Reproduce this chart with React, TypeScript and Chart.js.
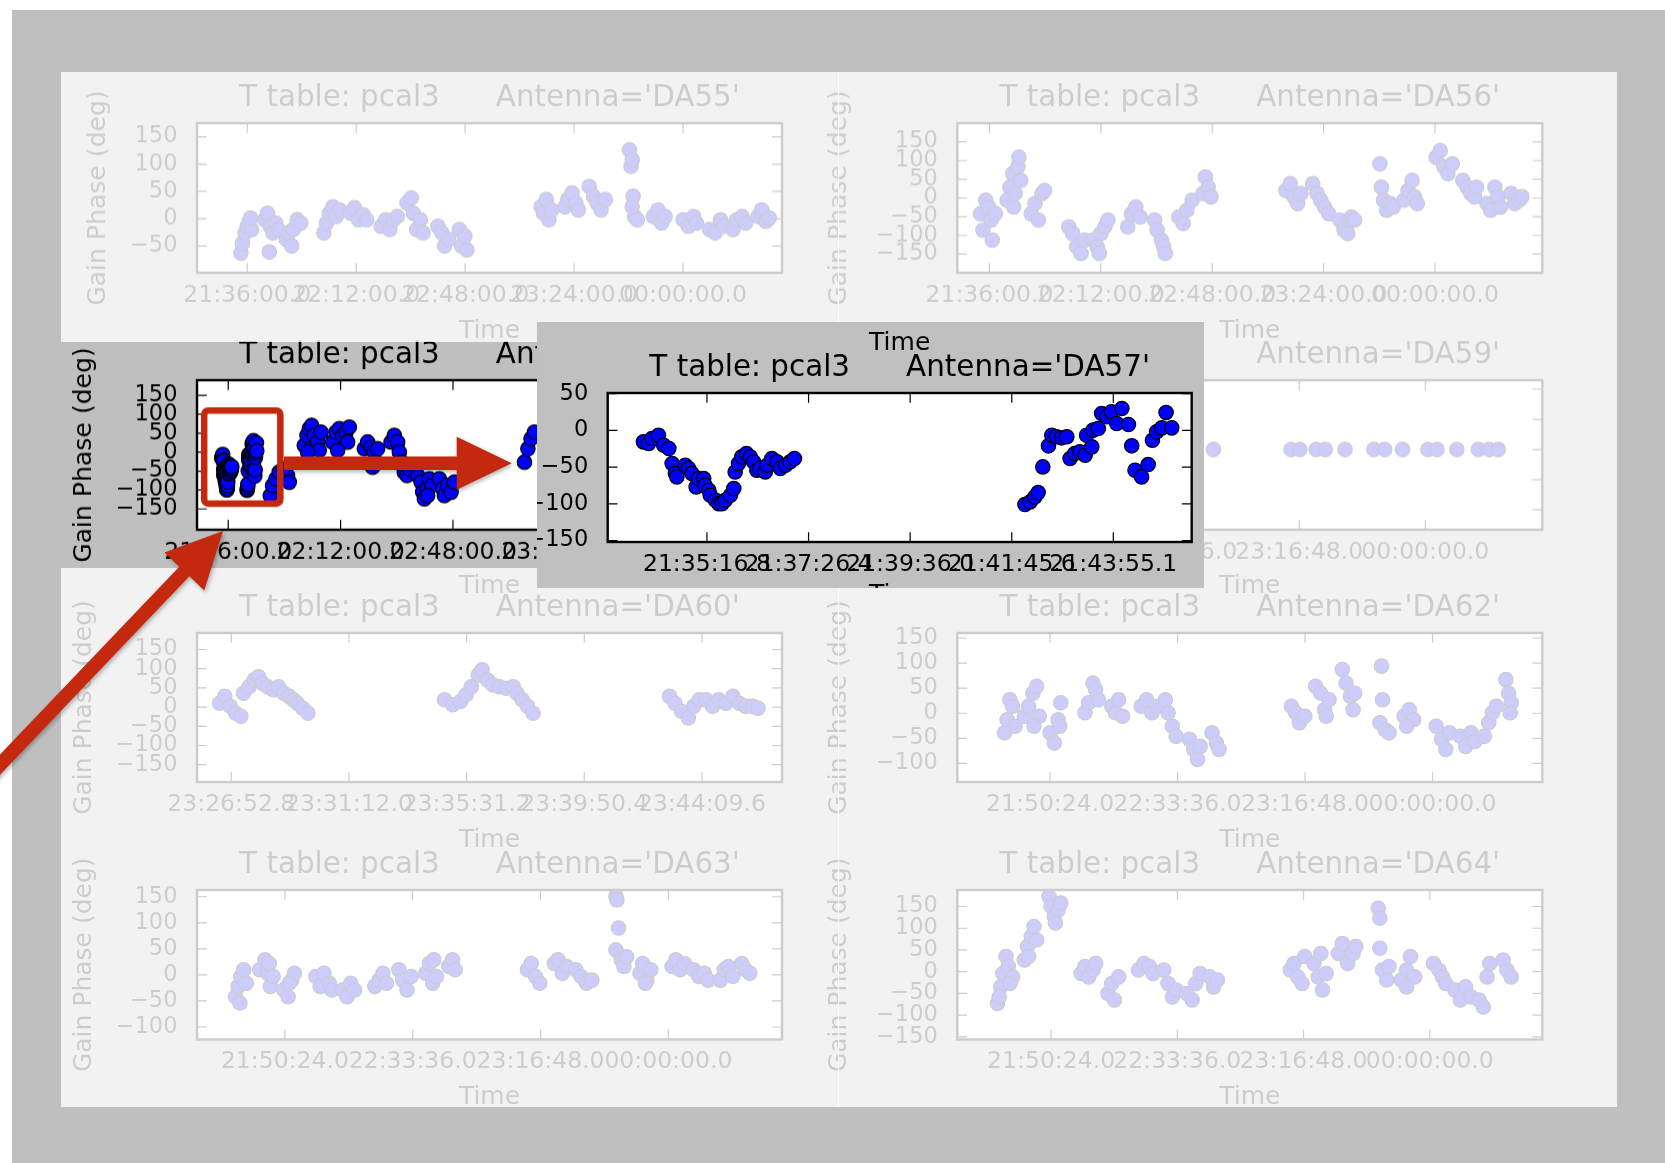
import { useEffect, useRef } from 'react';
import { Chart, registerables } from 'chart.js';

Chart.register(...registerables);

const FONT = "'DejaVu Sans', 'Liberation Sans', sans-serif";
const FIGURE_GREY = '#bfbfbf';
const MARKER_BLUE = '#0000ff';
const CALLOUT_RED = '#c4280f';

// ---- time tick labels (clock time; minutes after 21:00 are parsed from them) ----
const TIME_TICKS_36MIN = ['21:36:00.0', '22:12:00.0', '22:48:00.0', '23:24:00.0', '00:00:00.0'];
const TIME_TICKS_43MIN = ['21:50:24.0', '22:33:36.0', '23:16:48.0', '00:00:00.0'];
const TIME_TICKS_DA60 = ['23:26:52.8', '23:31:12.0', '23:35:31.2', '23:39:50.4', '23:44:09.6'];
const TIME_TICKS_ZOOM = ['21:35:16.8', '21:37:26.4', '21:39:36.0', '21:41:45.6', '21:43:55.1'];

// ---- phase tick values (deg) ----
const PHASE_TICKS_DA55 = [-50, 0, 50, 100, 150];
const PHASE_TICKS_WIDE = [-150, -100, -50, 0, 50, 100, 150];
const PHASE_TICKS_MID = [-100, -50, 0, 50, 100, 150];
const PHASE_TICKS_REF = [-100, -50, 0, 50, 100];
const PHASE_TICKS_ZOOM = [-150, -100, -50, 0, 50];

// ---- solutions: time in minutes after 21:00, gain phase in degrees ----
const DA55_MIN = [33.9, 34.4, 35.3, 36.0, 36.7, 37.4, 37.1, 41.8, 42.7, 43.6, 44.5, 43.3, 45.4, 46.3, 48.9, 49.8, 51.2, 52.5, 53.7, 50.7, 61.3, 62.2, 63.1, 64.3, 65.4, 66.6, 70.2, 71.4, 72.8, 74.3, 75.5, 80.3, 81.7, 83.1, 84.3, 85.6, 88.8, 90.2, 90.9, 92.0, 93.2, 94.1, 99.0, 100.3, 101.2, 102.6, 106.1, 106.8, 107.9, 108.6, 133.1, 133.9, 134.8, 135.7, 136.6, 141.0, 141.9, 143.3, 144.6, 145.4, 149.0, 150.4, 151.6, 152.9, 154.3, 162.3, 162.8, 163.2, 163.5, 164.0, 164.9, 163.2, 170.2, 171.7, 172.9, 174.1, 180.0, 181.8, 183.5, 184.4, 188.8, 190.6, 192.4, 193.6, 196.5, 197.7, 199.5, 200.7, 204.8, 206.0, 207.4, 208.5];
const DA55_DEG = [-63, -45, -26, -14, -5, -20, 1, -2, 10, -14, -26, -61, -8, -20, -38, -26, -20, -2, -8, -50, -26, -8, 10, 22, 4, 16, 10, 20, -2, 7, -2, -14, -2, -20, -2, 4, 29, 38, 10, -20, -2, -26, -14, -26, -50, -38, -20, -50, -32, -57, 22, 10, 35, -2, 16, 22, 35, 47, 29, 16, 59, 41, 29, 16, 35, 126, 96, 108, 41, 4, -2, 22, 4, 16, -8, 4, -2, -14, 4, -8, -20, -26, -2, -14, -20, -2, 4, -8, 4, 16, -5, 1];

const DA56_MIN = [33.1, 33.9, 34.8, 35.7, 36.5, 36.9, 37.9, 41.7, 42.6, 43.5, 43.8, 44.3, 45.2, 45.5, 46.1, 49.5, 50.7, 51.8, 53.0, 53.8, 61.6, 62.9, 64.2, 65.6, 66.8, 69.4, 70.8, 71.5, 72.0, 73.3, 74.3, 80.7, 81.9, 83.3, 84.7, 89.4, 90.2, 91.6, 92.3, 92.8, 97.2, 98.6, 99.8, 101.5, 105.0, 105.8, 106.7, 107.6, 131.8, 133.2, 134.4, 135.6, 136.7, 140.5, 141.9, 143.1, 144.3, 145.7, 149.2, 150.6, 151.8, 153.0, 154.0, 162.2, 162.7, 163.4, 164.4, 165.6, 166.5, 170.0, 171.3, 172.6, 173.4, 174.3, 180.4, 181.7, 182.9, 184.2, 185.6, 189.0, 190.4, 191.6, 192.8, 193.4, 196.8, 198.0, 199.4, 200.3, 201.2, 204.6, 205.8, 207.2, 208.1];
const DA56_DEG = [-42, -86, -6, -24, -59, -113, -42, -6, 29, 65, -24, 12, 83, 109, 47, -42, -15, -59, 12, 20, -77, -95, -130, -148, -113, -113, -130, -148, -95, -77, -59, -77, -42, -24, -51, -59, -86, -113, -130, -148, -51, -68, -33, -6, 12, 56, 29, 3, 20, 38, 3, -15, 12, 38, 12, -6, -24, -42, -59, -86, -95, -51, -59, 91, 29, -6, -33, -15, -24, -6, 20, 47, 3, -15, 109, 127, 83, 65, 91, 47, 29, 12, 3, 29, -15, -33, 29, 3, -24, 12, -15, -6, 3];

const DA57_MIN = [
  33.93, 34.04, 34.11, 34.25, 34.36, 34.47, 34.54, 34.61, 34.64, 34.82, 34.89, 34.96, 35.05, 35.10, 35.21, 35.24, 35.32, 35.35, 35.46, 35.53, 35.60, 35.67, 35.78, 35.85, 35.88, 35.95, 36.02, 36.12, 36.20, 36.27, 36.34, 36.41, 36.52, 36.56, 36.66, 36.77, 36.84, 36.95, 37.05, 37.14,
  42.04, 42.15, 42.25, 42.32, 42.42, 42.54, 42.61, 42.71, 42.82, 42.93, 43.00, 43.10, 43.21, 43.32, 43.35, 43.46, 43.49, 43.60, 43.67, 43.78, 43.88, 43.99, 44.10, 44.24, 44.31, 44.38, 44.52, 44.66, 44.75, 44.84, 44.95, 45.04, 45.16,
  49.47, 50.21, 51.29, 52.35, 53.74, 55.02, 55.56, 60.37, 61.22, 61.97, 62.72, 63.57, 64.64, 65.72, 65.17, 61.43, 69.44, 70.52, 71.59, 72.65, 73.73, 74.79, 74.25, 71.05, 79.60, 80.66, 81.75, 82.81, 83.35, 82.26, 83.86, 88.16, 89.22, 90.28, 90.82, 91.56, 92.43, 93.28, 94.03, 96.70, 97.78, 98.30, 98.84, 99.70, 100.44, 101.19, 99.90, 103.65, 104.71, 105.25, 106.31, 107.40, 108.46, 130.9, 132.0, 133.0, 134.1,
];
const DA57_DEG = [
  -15.6, -17.8, -11.0, -6.5, -20.1, -24.6, -45.1, -58.8, -63.3, -47.4, -51.9, -58.8, -76.9, -65.6, -65.6, -74.7, -81.5, -88.3, -95.1, -99.7, -99.7, -95.1, -88.3, -79.2, -56.5, -45.1, -36.0, -31.5, -36.0, -42.8, -54.2, -51.9, -56.5, -47.4, -38.3, -42.8, -51.9, -47.4, -42.8, -38.3,
  -101.0, -97.4, -90.6, -84.7, -49.7, -21.0, -6.5, -8.7, -10.1, -8.7, -38.3, -31.5, -29.2, -33.7, -6.5, -22.4, 0.4, 2.6, 23.1, 18.6, 25.4, 9.5, 29.9, 8.1, -21.0, -54.2, -63.3, -46.5, -13.3, -1.9, 3.5, 24.5, 3.5,
  -114.6, -88.1, -70.5, -52.9, -44.0, -61.7, -79.4, 17.6, 44.1, 61.8, 70.6, 44.1, 26.5, 52.9, 4.4, 0, 26.5, 52.9, 61.8, 44.1, 52.9, 66.2, 26.5, 4.4, 8.9, 26.5, 13.2, 0, -26.5, -39.7, 8.9, 26.5, 44.1, 26.5, 0, -26.5, -52.9, -61.7, -44.0, -61.7, -79.4, -105.9, -123.5, -97.1, -70.5, -88.1, -114.6, -70.5, -97.1, -114.6, -88.1, -105.9, -79.4, -26.5, 8.9, 35.3, 52.9,
];

const DA59_MIN = [107.4, 134.0, 137.0, 142.6, 145.7, 152.5, 162.4, 166.1, 172.2, 180.9, 184.0, 190.8, 198.2, 201.9, 205.0];
const DA59_DEG = [0, 0, 0, 0, 0, 0, 0, 0, 0, 0, 0, 0, 0, 0, 0];

const DA60_MIN = [146.45, 146.64, 146.84, 147.04, 147.23, 147.33, 147.53, 147.72, 147.88, 148.02, 148.22, 148.42, 148.61, 148.81, 149.00, 149.16, 149.30, 149.50, 149.69, 154.71, 155.01, 155.30, 155.50, 155.69, 155.95, 156.09, 156.28, 156.48, 156.72, 156.97, 157.23, 157.37, 157.56, 157.76, 157.96, 162.97, 163.17, 163.41, 163.66, 163.86, 164.06, 164.31, 164.55, 164.78, 165.04, 165.30, 165.53, 165.77, 166.02, 166.22];
const DA60_DEG = [10, 28, 2, -16, -24, 36, 53, 71, 79, 62, 53, 45, 53, 36, 28, 19, 10, -3, -16, 19, 6, 15, 32, 53, 84, 97, 71, 58, 53, 49, 53, 36, 19, 2, -16, 28, 10, -11, -28, 2, 19, 19, 2, 19, 10, 28, 10, 2, 2, -3];

const DA62_MIN = [34.93, 35.84, 36.76, 37.68, 38.56, 41.65, 43.11, 44.56, 45.85, 46.74, 44.94, 50.40, 51.83, 53.11, 54.03, 53.66, 62.21, 63.46, 64.92, 65.84, 66.75, 71.30, 72.55, 73.64, 74.93, 81.28, 83.11, 84.91, 86.74, 89.45, 90.37, 91.83, 93.08, 97.63, 99.09, 100.38, 101.26, 105.27, 106.73, 107.64, 132.17, 133.63, 134.89, 136.72, 140.35, 142.15, 143.44, 144.90, 143.98, 149.45, 150.70, 152.16, 153.62, 153.08, 162.17, 162.71, 163.05, 163.97, 165.25, 170.34, 172.14, 173.60, 171.23, 181.24, 183.07, 184.49, 185.78, 189.41, 191.24, 193.04, 194.33, 197.59, 199.05, 200.30, 201.59, 204.85, 205.77, 206.68, 206.31];
const DA62_DEG = [-39, -13, 27, 14, -26, -6, 14, 40, 54, -6, -26, -39, -59, -13, 21, -26, 1, 21, 60, 47, 27, 14, 1, 27, -6, 14, 27, 1, 14, 27, 1, -26, -46, -52, -72, -92, -66, -39, -59, -72, 14, 1, -19, -6, 54, 40, 7, 27, -6, 87, 60, 34, 40, 7, -19, 94, 27, -33, -39, -6, 7, -13, -26, -26, -52, -72, -39, -46, -66, -39, -56, -46, -19, 1, 14, 67, 40, 21, 1];

const DA63_MIN = [33.74, 34.62, 35.53, 36.44, 37.35, 35.19, 41.88, 43.67, 44.59, 45.50, 46.41, 45.13, 50.03, 51.48, 52.73, 53.64, 51.82, 60.88, 62.33, 63.62, 65.41, 66.32, 69.94, 71.39, 72.64, 73.92, 80.79, 82.24, 83.52, 84.77, 88.93, 90.22, 91.67, 93.12, 97.99, 99.27, 100.36, 101.61, 100.73, 105.76, 107.05, 107.96, 132.40, 133.65, 135.10, 136.56, 141.46, 142.71, 144.16, 145.61, 148.69, 150.48, 152.31, 154.13, 162.28, 162.62, 163.16, 162.28, 164.07, 164.98, 165.90, 170.42, 171.30, 172.76, 174.04, 172.22, 181.27, 182.56, 183.98, 185.43, 188.51, 190.33, 192.12, 193.41, 197.57, 198.85, 200.27, 201.73, 204.80, 206.09, 207.54];
const DA63_DEG = [-42, -22, -3, 10, -16, -54, 10, 29, 3, -22, -3, 22, -29, -42, -10, 3, -16, -3, -22, 3, -16, -29, -29, -42, -16, -29, -22, -10, 3, -16, 10, -10, -29, -3, 3, 22, -16, -3, 29, 16, 29, 10, 10, 22, -3, -16, 22, 29, 3, 16, 10, -3, -16, -10, 151, 144, 90, 48, 29, 16, 35, 3, 22, -10, 10, -16, 16, 29, 10, 22, 10, -3, 3, -10, -10, 10, 16, -3, 22, 10, 3];

const DA64_MIN = [32.07, 33.17, 33.89, 34.98, 35.74, 37.21, 36.29, 32.62, 41.22, 42.35, 43.62, 44.54, 45.47, 42.69, 49.68, 50.40, 51.50, 52.80, 53.72, 51.87, 60.68, 61.98, 63.25, 64.72, 65.65, 69.86, 71.16, 72.05, 73.53, 80.31, 82.16, 84.01, 85.28, 88.94, 90.42, 91.89, 93.16, 96.82, 98.67, 99.94, 101.41, 104.74, 106.00, 107.31, 132.25, 133.55, 134.82, 136.29, 137.22, 140.33, 141.81, 143.28, 144.55, 142.70, 148.76, 150.06, 151.88, 153.73, 154.65, 162.36, 162.91, 162.91, 163.80, 165.27, 166.03, 170.24, 172.06, 173.36, 174.83, 172.06, 181.24, 183.09, 184.35, 185.45, 188.60, 190.42, 192.27, 194.08, 196.86, 198.30, 199.60, 200.52, 205.11, 206.38, 207.85];
const DA64_DEG = [-73, -35, -4, 35, 12, -12, -27, -58, 27, 58, 81, 104, 73, 35, 173, 150, 127, 142, 158, 112, -4, 12, -12, 4, 19, -50, -27, -65, -12, 4, 19, 12, -4, 4, -27, -58, -42, -50, -65, -27, -4, -12, -35, -19, 4, 19, -12, -27, 35, 19, -12, -42, -4, 42, 42, 65, 19, 42, 58, 146, 123, 54, 4, -19, 12, -19, 4, 35, -12, -35, 19, 4, -12, -27, -42, -65, -35, -58, -65, -81, -12, 19, 27, 4, -12];

// Red call-out around the first DA57 scans (minutes after 21:00, degrees)
const CALLOUT_MIN = [28.3, 52.7];
const CALLOUT_DEG = [-136, 110];

// ---------------------------------------------------------------------------

type Rect = { left: number; top: number; width: number; height: number };

type Panel = {
  key: string;
  title: string;
  times: number[];
  phases: number[];
  timeTicks: string[];
  timeRange: [number, number];
  phaseTicks: number[];
  phaseRange: [number, number];
  box: Rect;
  frame: Rect;
  ylabelGap: number;
  xlabelDrop: number;
  headerLabel?: boolean;
  callout?: boolean;
};

const minutesFromLabel = (label: string) => {
  const [h, m, s] = label.split(':').map(Number);
  return ((h < 12 ? h + 24 : h) - 21) * 60 + m + s / 60;
};

const phaseLabel = (v: number) => (v < 0 ? '\u2212' + Math.abs(v) : String(v));

const ROW_TOPS = [123.3, 380, 632.8, 890];

function tileGeometry(col: number, row: number) {
  const boxLeft = col === 0 ? 197 : 957.3;
  const boxTop = ROW_TOPS[row];
  const box = { left: boxLeft, top: boxTop, width: 585, height: 149.5 };
  const frameLeft = col === 0 ? 61 : 800;
  const frameRight = col === 0 ? 838 : 1617;
  const frameTop = boxTop - 48;
  const frameBottom = Math.min(boxTop + 149.5 + 78, 1107);
  return {
    box,
    frame: { left: frameLeft, top: frameTop, width: frameRight - frameLeft, height: frameBottom - frameTop },
  };
}

const antennaTitle = (name: string) => `T table: pcal3      Antenna='${name}'`;

const TILES: Panel[] = [
  { key: 'DA55', title: antennaTitle('DA55'), times: DA55_MIN, phases: DA55_DEG, timeTicks: TIME_TICKS_36MIN, timeRange: [19.4, 212.7], phaseTicks: PHASE_TICKS_DA55, phaseRange: [-99, 175], ...tileGeometry(0, 0), ylabelGap: 92, xlabelDrop: 64.5 },
  { key: 'DA56', title: antennaTitle('DA56'), times: DA56_MIN, phases: DA56_DEG, timeTicks: TIME_TICKS_36MIN, timeRange: [25.6, 214.7], phaseTicks: PHASE_TICKS_WIDE, phaseRange: [-200, 200], ...tileGeometry(1, 0), ylabelGap: 111, xlabelDrop: 64.5 },
  { key: 'DA57', title: antennaTitle('DA57'), times: DA57_MIN, phases: DA57_DEG, timeTicks: TIME_TICKS_36MIN, timeRange: [26.0, 213.4], phaseTicks: PHASE_TICKS_WIDE, phaseRange: [-205, 190], ...tileGeometry(0, 1), ylabelGap: 106, xlabelDrop: 63, callout: true },
  { key: 'DA59', title: antennaTitle('DA59'), times: DA59_MIN, phases: DA59_DEG, timeTicks: TIME_TICKS_43MIN, timeRange: [19.6, 220.1], phaseTicks: PHASE_TICKS_REF, phaseRange: [-133, 115], ...tileGeometry(1, 1), ylabelGap: 111, xlabelDrop: 63 },
  { key: 'DA60', title: antennaTitle('DA60'), times: DA60_MIN, phases: DA60_DEG, timeTicks: TIME_TICKS_DA60, timeRange: [145.62, 167.1], phaseTicks: PHASE_TICKS_WIDE, phaseRange: [-195, 193], ...tileGeometry(0, 2), ylabelGap: 106, xlabelDrop: 64.5 },
  { key: 'DA62', title: antennaTitle('DA62'), times: DA62_MIN, phases: DA62_DEG, timeTicks: TIME_TICKS_43MIN, timeRange: [18.95, 217.2], phaseTicks: PHASE_TICKS_MID, phaseRange: [-137, 160], ...tileGeometry(1, 2), ylabelGap: 111, xlabelDrop: 64.5 },
  { key: 'DA63', title: antennaTitle('DA63'), times: DA63_MIN, phases: DA63_DEG, timeTicks: TIME_TICKS_43MIN, timeRange: [20.7, 218.4], phaseTicks: PHASE_TICKS_MID, phaseRange: [-124, 163], ...tileGeometry(0, 3), ylabelGap: 106, xlabelDrop: 64.5 },
  { key: 'DA64', title: antennaTitle('DA64'), times: DA64_MIN, phases: DA64_DEG, timeTicks: TIME_TICKS_43MIN, timeRange: [18.3, 218.5], phaseTicks: PHASE_TICKS_WIDE, phaseRange: [-156, 188], ...tileGeometry(1, 3), ylabelGap: 111, xlabelDrop: 64.5 },
];

const ZOOM_FRAME: Rect = { left: 537, top: 322, width: 667, height: 266 };

const ZOOM_PANEL: Panel = {
  key: 'DA57-zoom',
  title: antennaTitle('DA57'),
  times: DA57_MIN,
  phases: DA57_DEG,
  timeTicks: TIME_TICKS_ZOOM,
  timeRange: [33.17, 45.585],
  phaseTicks: PHASE_TICKS_ZOOM,
  phaseRange: [-152, 51],
  box: { left: 607.7, top: 393, width: 584, height: 149 },
  frame: ZOOM_FRAME,
  ylabelGap: 106,
  xlabelDrop: 60,
  headerLabel: true,
};

// Matplotlib-style axes: white face, black frame, inward ticks on all four sides, title and labels
const axesFrame = {
  id: 'axesFrame',
  beforeDraw(chart: any) {
    const { ctx, chartArea: a } = chart;
    ctx.save();
    ctx.fillStyle = '#ffffff';
    ctx.fillRect(a.left, a.top, a.right - a.left, a.bottom - a.top);
    ctx.restore();
  },
  afterDatasetsDraw(chart: any, _args: any, opts: any) {
    const { ctx, chartArea: a } = chart;
    const xs = chart.scales.x;
    const ys = chart.scales.y;
    const tick = 9.8;
    ctx.save();
    ctx.strokeStyle = '#000';
    ctx.lineWidth = 1.2;
    ctx.beginPath();
    for (const t of xs.ticks) {
      const px = xs.getPixelForValue(t.value);
      ctx.moveTo(px, a.bottom);
      ctx.lineTo(px, a.bottom - tick);
      ctx.moveTo(px, a.top);
      ctx.lineTo(px, a.top + tick);
    }
    for (const t of ys.ticks) {
      const py = ys.getPixelForValue(t.value);
      ctx.moveTo(a.left, py);
      ctx.lineTo(a.left + tick, py);
      ctx.moveTo(a.right, py);
      ctx.lineTo(a.right - tick, py);
    }
    ctx.stroke();
    ctx.lineWidth = 2.4;
    ctx.strokeRect(a.left, a.top, a.right - a.left, a.bottom - a.top);

    if (opts.callout) {
      const x0 = xs.getPixelForValue(CALLOUT_MIN[0]);
      const x1 = xs.getPixelForValue(CALLOUT_MIN[1]);
      const y0 = ys.getPixelForValue(CALLOUT_DEG[1]);
      const y1 = ys.getPixelForValue(CALLOUT_DEG[0]);
      ctx.strokeStyle = CALLOUT_RED;
      ctx.lineWidth = 6.5;
      ctx.lineJoin = 'round';
      ctx.beginPath();
      ctx.roundRect(x0, y0, x1 - x0, y1 - y0, 4);
      ctx.stroke();
    }
    ctx.restore();
  },
  afterDraw(chart: any, _args: any, opts: any) {
    const { ctx, chartArea: a } = chart;
    const cx = (a.left + a.right) / 2;
    ctx.save();
    ctx.fillStyle = '#000';
    ctx.textAlign = 'center';
    ctx.textBaseline = 'alphabetic';
    ctx.font = `29.4px ${FONT}`;
    ctx.fillText(opts.title, cx, a.top - 17);
    ctx.font = `25px ${FONT}`;
    ctx.fillText('Time', cx, a.bottom + opts.xlabelDrop);
    if (opts.headerLabel) ctx.fillText('Time', cx, a.top - 43);
    ctx.translate(a.left - opts.ylabelGap, (a.top + a.bottom) / 2);
    ctx.rotate(-Math.PI / 2);
    ctx.fillText('Gain Phase (deg)', 0, 0);
    ctx.restore();
  },
};

function buildConfig(p: Panel): any {
  const padTop = p.box.top - p.frame.top;
  const padRight = p.frame.left + p.frame.width - (p.box.left + p.box.width);
  const yWidth = p.box.left - p.frame.left;
  const xHeight = p.frame.top + p.frame.height - (p.box.top + p.box.height);
  const xTickFont = { family: FONT, size: 23.5, lineHeight: 1.2 };
  const yTickFont = { family: FONT, size: 22.5, lineHeight: 1.2 };
  return {
    type: 'scatter',
    data: {
      datasets: [
        {
          data: p.times.map((t, i) => ({ x: t, y: p.phases[i] })),
          pointRadius: 7.2,
          pointHoverRadius: 7.2,
          pointBackgroundColor: MARKER_BLUE,
          pointBorderColor: '#000',
          pointBorderWidth: 1.2,
          clip: 0,
        },
      ],
    },
    options: {
      animation: false,
      responsive: false,
      devicePixelRatio: 1,
      events: [],
      layout: { padding: { top: padTop, right: padRight, left: 0, bottom: 0 } },
      plugins: {
        legend: { display: false },
        tooltip: { enabled: false },
        axesFrame: {
          title: p.title,
          ylabelGap: p.ylabelGap,
          xlabelDrop: p.xlabelDrop,
          headerLabel: !!p.headerLabel,
          callout: !!p.callout,
        },
      },
      scales: {
        x: {
          type: 'linear',
          bounds: 'data',
          min: p.timeRange[0],
          max: p.timeRange[1],
          grid: { display: false, drawTicks: false, tickLength: 0 },
          border: { display: false },
          ticks: {
            autoSkip: false,
            maxRotation: 0,
            minRotation: 0,
            padding: 8.5,
            color: '#000',
            font: xTickFont,
            callback: (_v: number, i: number) => p.timeTicks[i],
          },
          afterBuildTicks: (s: any) => {
            s.ticks = p.timeTicks.map((l) => ({ value: minutesFromLabel(l) }));
          },
          afterFit: (s: any) => {
            s.height = xHeight;
          },
        },
        y: {
          type: 'linear',
          bounds: 'data',
          min: p.phaseRange[0],
          max: p.phaseRange[1],
          grid: { display: false, drawTicks: false, tickLength: 0 },
          border: { display: false },
          ticks: {
            autoSkip: false,
            padding: 19.5,
            color: '#000',
            font: yTickFont,
            callback: (v: number) => phaseLabel(v),
          },
          afterBuildTicks: (s: any) => {
            s.ticks = p.phaseTicks.map((v) => ({ value: v }));
          },
          afterFit: (s: any) => {
            s.width = yWidth;
          },
        },
      },
    },
    plugins: [axesFrame],
  };
}

function PhasePanel({ panel }: { panel: Panel }) {
  const ref = useRef<HTMLCanvasElement>(null);
  useEffect(() => {
    const chart = new Chart(ref.current as HTMLCanvasElement, buildConfig(panel));
    return () => chart.destroy();
  }, [panel]);
  const f = panel.frame;
  return (
    <canvas
      ref={ref}
      width={f.width}
      height={f.height}
      style={{ position: 'absolute', left: f.left, top: f.top, width: f.width, height: f.height }}
    />
  );
}

type Pt = [number, number];

function blockArrow(ctx: CanvasRenderingContext2D, tail: Pt, tip: Pt, shaft: number, headLen: number, headWidth: number) {
  const dx = tip[0] - tail[0];
  const dy = tip[1] - tail[1];
  const len = Math.hypot(dx, dy);
  const ux = dx / len;
  const uy = dy / len;
  const px = -uy;
  const py = ux;
  const bx = tip[0] - ux * headLen;
  const by = tip[1] - uy * headLen;
  ctx.beginPath();
  ctx.moveTo(tail[0] + (px * shaft) / 2, tail[1] + (py * shaft) / 2);
  ctx.lineTo(bx + (px * shaft) / 2, by + (py * shaft) / 2);
  ctx.lineTo(bx + (px * headWidth) / 2, by + (py * headWidth) / 2);
  ctx.lineTo(tip[0], tip[1]);
  ctx.lineTo(bx - (px * headWidth) / 2, by - (py * headWidth) / 2);
  ctx.lineTo(bx - (px * shaft) / 2, by - (py * shaft) / 2);
  ctx.lineTo(tail[0] - (px * shaft) / 2, tail[1] - (py * shaft) / 2);
  ctx.closePath();
  ctx.fill();
}

function CalloutArrows() {
  const ref = useRef<HTMLCanvasElement>(null);
  useEffect(() => {
    const canvas = ref.current as HTMLCanvasElement;
    const ctx = canvas.getContext('2d') as CanvasRenderingContext2D;
    ctx.clearRect(0, 0, canvas.width, canvas.height);
    ctx.save();
    ctx.fillStyle = CALLOUT_RED;
    ctx.shadowColor = 'rgba(0,0,0,0.3)';
    ctx.shadowBlur = 4;
    ctx.shadowOffsetX = 1.5;
    ctx.shadowOffsetY = 2;
    blockArrow(ctx, [284, 463.3], [511.7, 463.3], 13.5, 55, 53);
    blockArrow(ctx, [-30, 796], [223, 531], 14, 56, 55);
    ctx.restore();
  }, []);
  return (
    <canvas
      ref={ref}
      width={1665}
      height={1163}
      style={{ position: 'absolute', left: 0, top: 0, width: 1665, height: 1163, pointerEvents: 'none' }}
    />
  );
}

const FADE = 'rgba(255,255,255,0.8)';

export default function App() {
  return (
    <div style={{ position: 'absolute', left: 0, top: 0, width: 1665, height: 1163, background: '#ffffff', overflow: 'hidden' }}>
      <div style={{ position: 'absolute', left: 12, top: 10, width: 1653, height: 1153, background: FIGURE_GREY }} />
      {TILES.map((p) => (
        <PhasePanel key={p.key} panel={p} />
      ))}
      <div style={{ position: 'absolute', left: 837.5, top: 72, width: 1.5, height: 1035, background: '#ffffff' }} />
      <div style={{ position: 'absolute', left: 61, top: 72, width: 1556, height: 270, background: FADE }} />
      <div style={{ position: 'absolute', left: 61, top: 568, width: 1556, height: 539, background: FADE }} />
      <div style={{ position: 'absolute', left: 537, top: 342, width: 1080, height: 226, background: FADE }} />
      <div
        style={{
          position: 'absolute',
          left: ZOOM_FRAME.left,
          top: ZOOM_FRAME.top,
          width: ZOOM_FRAME.width,
          height: ZOOM_FRAME.height,
          background: '#c0c0c0',
        }}
      />
      <PhasePanel panel={ZOOM_PANEL} />
      <CalloutArrows />
    </div>
  );
}
